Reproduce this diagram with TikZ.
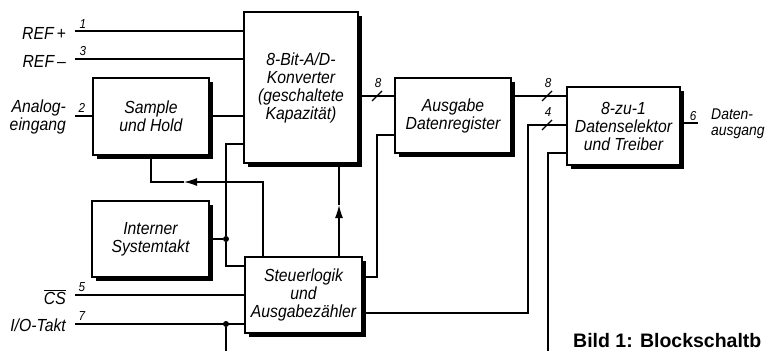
\documentclass[tikz,border=0pt]{standalone}
\usepackage{fontspec}
\setmainfont{Liberation Sans}[FakeStretch=0.9]
\newfontfamily\capfont{Liberation Sans}
\usetikzlibrary{arrows.meta}

\begin{document}
\begin{tikzpicture}[x=1pt,y=-1pt,font=\itshape\fontsize{17.5}{18}\selectfont,
 blk/.style={draw,line width=1.6pt,fill=white,align=center,inner sep=0pt,
  preaction={fill=black,transform canvas={xshift=4pt,yshift=-4pt}}},
 lin/.style={line width=1.2pt},
 bus/.style={line width=2.6pt},
 pin/.style={font=\itshape\fontsize{13}{13}\selectfont,inner sep=1pt},
 lbl/.style={inner sep=0pt,align=right,anchor=east},
 dot/.style={circle,fill,inner sep=0pt,minimum size=6pt},
 tip/.style={-{Latex[length=13pt,width=8pt]}}]
 \useasboundingbox (0,0) rectangle (770,351);
 \node[blk,minimum width=114pt,minimum height=151pt] (adc) at (301,87.5) {8-Bit-A/D-\\Konverter\\(geschaltete\\Kapazität)};
 \node[blk,minimum width=116pt,minimum height=77pt] (sh) at (151,116.5) {Sample\\und Hold};
 \node[blk,minimum width=116pt,minimum height=75pt] (reg) at (453,115.5) {Ausgabe\\Datenregister};
 \node[blk,minimum width=113pt,minimum height=78pt] (sel) at (623.5,126) {8-zu-1\\Datenselektor\\und Treiber};
 \node[blk,minimum width=117pt,minimum height=76pt] (takt) at (150.5,239) {Interner\\Systemtakt};
 \node[blk,minimum width=117pt,minimum height=76pt] (ctl) at (303.5,295) {Steuerlogik\\und\\Ausgabezähler};
 \coordinate (refp) at (75,31);
 \coordinate (refm) at (75,59);
 \coordinate (ain) at (75,116);
 \coordinate (cs) at (75,295);
 \coordinate (io) at (75,324);
 \coordinate (clk) at (226,239);
 \coordinate (iobot) at (226,351);
 \coordinate (selclk) at (548,351);
 \coordinate (dout) at (698,123);
 \coordinate (hold) at (184,182);
 \coordinate (start) at (339,205);
 \node[dot] (clkdot) at (clk) {};
 \node[dot] (iodot) at (io -| clk) {};
 \draw[lin] (refp) -- (refp -| adc.west);
 \draw[lin] (refm) -- (refm -| adc.west);
 \draw[lin] (ain) -- (ain -| sh.west);
 \draw[lin] (ain -| sh.east) -- (ain -| adc.west);
 \draw[lin] (takt.east) -- (clkdot);
 \draw[lin] (ctl.west |- 0,266) -| (clkdot) |- (adc.west |- 0,144);
 \draw[lin,tip] (ctl.north -| 263,0) |- (hold);
 \draw[lin] (hold) -| (sh.south);
 \draw[lin,tip] (ctl.north -| start) -- (start);
 \draw[lin] (start) -- (adc.south -| start);
 \draw[lin] (ctl.east |- 0,277) -| (377,135) -- (reg.west |- 0,135);
 \draw[bus] (adc.east |- 0,96) -- (reg.west |- 0,96);
 \draw[bus] (reg.east |- 0,96) -- (sel.west |- 0,96);
 \draw[bus] (ctl.east |- 0,313) -| (528,125) -- (sel.west |- 0,125);
 \draw[lin] (selclk) |- (sel.west |- 0,153);
 \draw[lin] (sel.east |- dout) -- (dout);
 \draw[lin] (cs) -- (cs -| ctl.west);
 \draw[lin] (io) -- (io -| ctl.west);
 \draw[lin] (iodot) -- (iobot);
 \foreach \x/\y/\n in {377/96/8,547/96/8,547/125/4}{
  \draw[lin] (\x-5,\y+5) -- (\x+5,\y-5);
  \node[pin] at (\x+1,\y-13) {\n};}
 \foreach \x/\y/\n in {83/24/1,83/51/3,82/108/2,82/287/5,82/316/7,693/116/6}
  \node[pin] at (\x,\y) {\n};
 \node[lbl] (lrefp) at (66,33) {REF\,+};
 \node[lbl] (lrefm) at (66,61) {REF\,--};
 \node[lbl] (lain) at (66,117) {Analog-\\eingang};
 \node[lbl] (lcs) at (66,297) {$\overline{\mbox{\itshape CS}}$};
 \node[lbl] (lio) at (66,325) {I/O-Takt};
 \node[inner sep=0pt,align=left,anchor=west,font=\itshape\fontsize{15.5}{16}\selectfont] (ldout) at (711,124) {Daten-\\ausgang};
 \node[anchor=base west,inner sep=0pt,font=\capfont\bfseries\fontsize{19.5}{19.5}\selectfont] (cap) at (573,347) {Bild 1: Blockschaltb};
\end{tikzpicture}
\end{document}
